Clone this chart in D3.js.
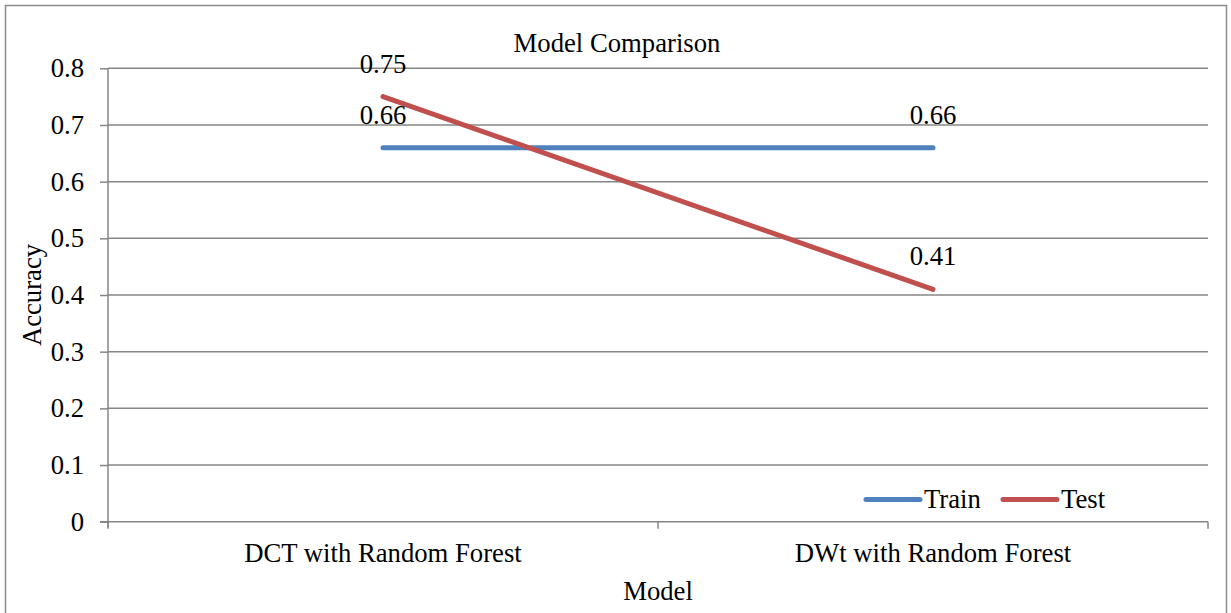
<!DOCTYPE html>
<html>
<head>
<meta charset="utf-8">
<script src="https://cdn.jsdelivr.net/npm/d3@7"></script>
<style>
  html, body { margin: 0; padding: 0; background: #fff; }
</style>
</head>
<body>
<svg id="chart" width="1231" height="613"></svg>
<script>
// Chart data
const categories = ["DCT with Random Forest", "DWt with Random Forest"];
const trainValues = [0.66, 0.66];
const testValues = [0.75, 0.41];
const yTicks = [0, 0.1, 0.2, 0.3, 0.4, 0.5, 0.6, 0.7, 0.8];
const seriesNames = ["Train", "Test"];
const seriesColors = ["#4F81BD", "#C0504D"];

const svg = d3.select("#chart");
const plot = { left: 108, right: 1208, top: 68.3, bottom: 521.7 };
const fontSize = 26.7;
const gridColor = "#868686";
const lineWidth = 5;

// apply the serif face directly on a text selection
const face = sel => sel
  .attr("font-family", null)
  .style("font-family", '"Liberation Serif"')
  .style("font-size", fontSize + "px")
  .attr("fill", "#000");

// outer frame
svg.append("rect")
  .attr("x", 5.5).attr("y", 5.5)
  .attr("width", 1221).attr("height", 612)
  .attr("fill", "#fff")
  .attr("stroke", "#8c8c8c").attr("stroke-width", 1.5);

const x = d3.scaleBand().domain(categories).range([plot.left, plot.right]).padding(0);
const y = d3.scaleLinear().domain([0, 0.8]).range([plot.bottom, plot.top]);
const cx = d => x(d) + x.bandwidth() / 2;

// horizontal gridlines
svg.append("g")
  .selectAll("line")
  .data(yTicks.filter(t => t > 0))
  .join("line")
  .attr("x1", plot.left).attr("x2", plot.right)
  .attr("y1", d => y(d)).attr("y2", d => y(d))
  .attr("stroke", gridColor).attr("stroke-width", 1.5);

// y axis
const yAxis = svg.append("g")
  .attr("transform", `translate(${plot.left},0)`)
  .call(d3.axisLeft(y).tickValues(yTicks).tickSize(8).tickPadding(16)
    .tickFormat(d => d === 0 ? "0" : d3.format(".1f")(d)));
yAxis.attr("font-family", null).attr("font-size", null);
yAxis.select(".domain").attr("stroke", gridColor).attr("stroke-width", 1.5)
  .attr("d", `M0,${plot.top}V${plot.bottom + 6}`);
yAxis.selectAll(".tick line").attr("stroke", gridColor).attr("stroke-width", 1.5);
yAxis.selectAll(".tick text").call(face);

// x axis
const xAxis = svg.append("g")
  .attr("transform", `translate(0,${plot.bottom})`);
xAxis.append("line")
  .attr("x1", plot.left - 8).attr("x2", plot.right)
  .attr("y1", 0).attr("y2", 0)
  .attr("stroke", gridColor).attr("stroke-width", 1.5);
const boundaries = [plot.left, ...categories.map(c => x(c) + x.bandwidth())];
xAxis.selectAll("line.tk")
  .data(boundaries)
  .join("line")
  .attr("class", "tk")
  .attr("x1", d => d).attr("x2", d => d)
  .attr("y1", 0).attr("y2", 7)
  .attr("stroke", gridColor).attr("stroke-width", 1.5);
xAxis.selectAll("text.cat")
  .data(categories)
  .join("text")
  .attr("class", "cat")
  .attr("x", d => cx(d)).attr("y", 40)
  .attr("text-anchor", "middle")
  .call(face)
  .text(d => d);

// axis titles
svg.append("text")
  .attr("x", 658).attr("y", 600)
  .attr("text-anchor", "middle")
  .call(face)
  .text("Model");
svg.append("text")
  .attr("transform", "translate(41,295) rotate(-90)")
  .attr("text-anchor", "middle")
  .call(face)
  .text("Accuracy");

// chart title
svg.append("text")
  .attr("x", 617).attr("y", 52)
  .attr("text-anchor", "middle")
  .call(face)
  .text("Model Comparison");

// series lines
const line = d3.line().x(d => cx(d.cat)).y(d => y(d.v));
const series = [trainValues, testValues].map((vals, i) => ({
  name: seriesNames[i],
  color: seriesColors[i],
  points: categories.map((c, j) => ({ cat: c, v: vals[j] }))
}));

svg.append("g")
  .selectAll("path")
  .data(series)
  .join("path")
  .attr("d", d => line(d.points))
  .attr("fill", "none")
  .attr("stroke", d => d.color)
  .attr("stroke-width", lineWidth)
  .attr("stroke-linecap", "round");

// value labels
svg.append("g")
  .selectAll("text")
  .data(series.flatMap(s => s.points))
  .join("text")
  .attr("x", d => cx(d.cat))
  .attr("y", d => y(d.v) - 24)
  .attr("text-anchor", "middle")
  .call(face)
  .text(d => d3.format(".2f")(d.v));

// legend
const legend = svg.append("g");
const legendItems = [
  { name: seriesNames[0], color: seriesColors[0], x: 866 },
  { name: seriesNames[1], color: seriesColors[1], x: 1003 }
];
legendItems.forEach(it => {
  legend.append("line")
    .attr("x1", it.x).attr("x2", it.x + 54)
    .attr("y1", 499.5).attr("y2", 499.5)
    .attr("stroke", it.color).attr("stroke-width", lineWidth)
    .attr("stroke-linecap", "round");
  legend.append("text")
    .attr("x", it.x + 58).attr("y", 508)
    .call(face)
    .text(it.name);
});
</script>
</body>
</html>
